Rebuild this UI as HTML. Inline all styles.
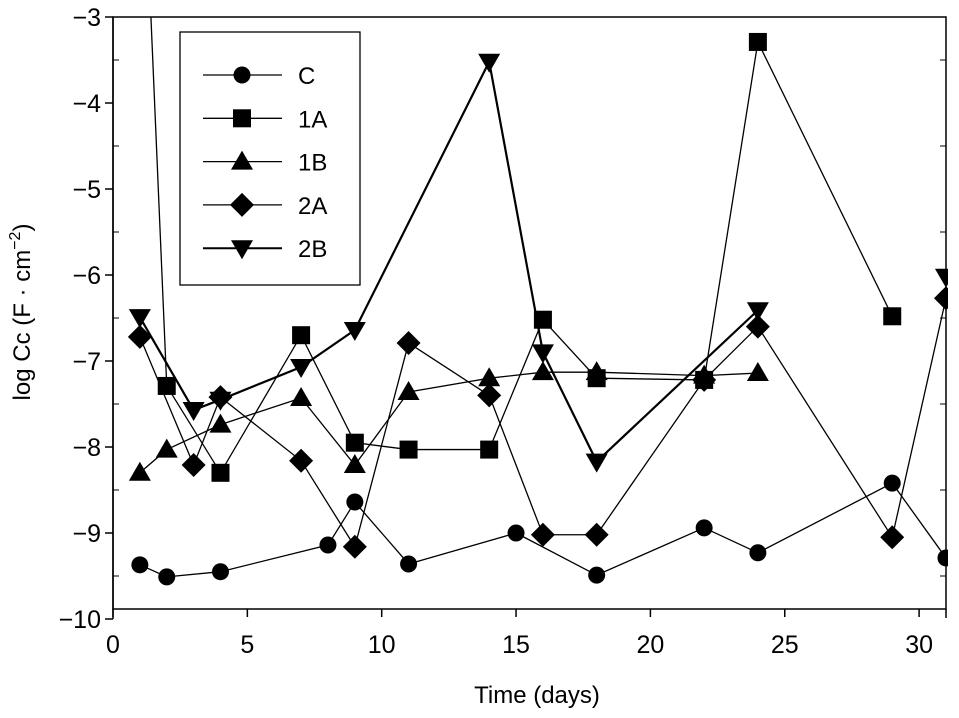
<!DOCTYPE html>
<html><head><meta charset="utf-8"><style>
html,body{margin:0;padding:0;background:#fff;}
svg{display:block;font-family:"Liberation Sans",Arial,sans-serif;}
</style></head><body>
<svg id="chart" width="959" height="718" viewBox="0 0 959 718">
<g id="axes"></g>
<g id="series"></g>
<g id="legend"></g>
<text x="537" y="703" text-anchor="middle" font-size="24">Time (days)</text>
<text transform="translate(30,312) rotate(-90)" text-anchor="middle" font-size="24">log Cc (F · cm<tspan dy="-10" font-size="16">−2</tspan><tspan dy="10">)</tspan></text>
</svg>
<script>
const xTicks=[0,5,10,15,20,25,30];
const yTicks=[-3,-4,-5,-6,-7,-8,-9,-10];
const yTickLabels=["−3","−4","−5","−6","−7","−8","−9","−10"];
const cDays=[1,2,4,8,9,11,15,18,22,24,29,31];
const cVals=[-9.37,-9.51,-9.45,-9.14,-8.64,-9.36,-9.0,-9.49,-8.94,-9.23,-8.42,-9.29];
const a1Days=[1,2,4,7,9,11,14,16,18,22,24,29];
const a1Vals=[0,-7.29,-8.30,-6.70,-7.95,-8.03,-8.03,-6.52,-7.20,-7.22,-3.29,-6.48];
const b1Days=[1,2,4,7,9,11,14,16,18,22,24];
const b1Vals=[-8.30,-8.03,-7.74,-7.43,-8.21,-7.36,-7.20,-7.13,-7.13,-7.17,-7.14];
const a2Days=[1,3,4,7,9,11,14,16,18,22,24,29,31];
const a2Vals=[-6.72,-8.21,-7.42,-8.16,-9.16,-6.79,-7.40,-9.02,-9.02,-7.22,-6.60,-9.05,-6.27];
const b2Days=[1,3,4,7,9,14,16,18,24,28,31];
const b2Vals=[-6.49,-7.57,-7.45,-7.07,-6.64,-3.52,-6.90,-8.17,-6.41,null,-6.02];
const seriesNames=["C","1A","1B","2A","2B"];

const NS="http://www.w3.org/2000/svg";
const L=113,R=946,T=17,B=609;
function xs(d){return 113+d*26.87;}
function ys(v){return 17+(-3-v)*86;}
function mk(tag,attrs,parent){const e=document.createElementNS(NS,tag);for(const k in attrs)e.setAttribute(k,attrs[k]);parent.appendChild(e);return e;}
const axes=document.getElementById('axes');
let e;
e=mk('rect',{x:L,y:T,width:R-L,height:B-T,fill:'none',stroke:'#000','stroke-width':1.5},axes);


e=mk('line',{x1:L,y1:T,x2:L,y2:ys(-10),stroke:'#000','stroke-width':1.5},axes);


e=mk('line',{x1:R,y1:B,x2:R,y2:B+9,stroke:'#000','stroke-width':1.5},axes);


yTicks.forEach((v,i)=>{
  const y=ys(v);
  let t=mk('line',{x1:L-8,y1:y,x2:L,y2:y,stroke:'#000','stroke-width':1.5},axes);
  
  
  if(v>-10){
    const ym=ys(v-0.5);
    let m=mk('line',{x1:L,y1:ym,x2:L+6,y2:ym,stroke:'#000','stroke-width':1},axes);
    
    
    let m2=mk('line',{x1:R-6,y1:ym,x2:R,y2:ym,stroke:'#000','stroke-width':1},axes);
    
    
  }
  if(v>-3&&v>-10){
    let t2=mk('line',{x1:R-8,y1:y,x2:R,y2:y,stroke:'#000','stroke-width':1},axes);
    
    
  }
  let lb=mk('text',{x:L-12,y:y+9,'text-anchor':'end','font-size':25},axes);
  lb.textContent=yTickLabels[i];
  
  
});
xTicks.forEach(d=>{
  const x=xs(d);
  let t=mk('line',{x1:x,y1:B,x2:x,y2:B+8,stroke:'#000','stroke-width':1.5},axes);
  
  
  let lb=mk('text',{x:x,y:653,'text-anchor':'middle','font-size':25},axes);
  lb.textContent=String(d);
  
  
});
const clip=mk('clipPath',{id:'pc'},document.getElementById('chart'));
mk('rect',{x:L,y:T,width:R-L+2,height:B-T},clip);
const sg=document.getElementById('series');
function marker(type,x,y,parent){
  let m;
  if(type==='circle')m=mk('circle',{cx:x,cy:y,r:8.5},parent);
  else if(type==='square')m=mk('rect',{x:x-9,y:y-9,width:18,height:18},parent);
  else if(type==='tri')m=mk('polygon',{points:`${x},${y-11} ${x+11},${y+8} ${x-11},${y+8}`},parent);
  else if(type==='dia')m=mk('polygon',{points:`${x},${y-12} ${x+12},${y} ${x},${y+12} ${x-12},${y}`},parent);
  else m=mk('polygon',{points:`${x},${y+11} ${x+11},${y-8} ${x-11},${y-8}`},parent);
  m.setAttribute('fill','#000');
  return m;
}
function drawSeries(name,days,vals,type,w){
  const g=mk('g',{'clip-path':'url(#pc)'},sg);
  
  
  let segs=[],cur=[];
  days.forEach((d,i)=>{if(vals[i]===null){if(cur.length)segs.push(cur);cur=[];}else cur.push([xs(d),ys(vals[i])]);});
  if(cur.length)segs.push(cur);
  segs.forEach(s=>{
    let p=mk('polyline',{points:s.map(q=>q.join(',')).join(' '),fill:'none',stroke:'#000','stroke-width':w},g);
    
    
  });
  days.forEach((d,i)=>{
    if(vals[i]===null)return;
    let m=marker(type,xs(d),ys(vals[i]),g);
    
    
  });
}
drawSeries('c',cDays,cVals,'circle',1.3);
drawSeries('1a',a1Days,a1Vals,'square',1.3);
drawSeries('1b',b1Days,b1Vals,'tri',1.3);
drawSeries('2a',a2Days,a2Vals,'dia',1.3);
drawSeries('2b',b2Days,b2Vals,'inv',2.2);
const lg=document.getElementById('legend');
e=mk('rect',{x:180,y:32,width:180,height:253,fill:'#fff',stroke:'#000','stroke-width':1.3},lg);


const types=['circle','square','tri','dia','inv'];
seriesNames.forEach((n,i)=>{
  const y=75+i*43.3;
  const g=mk('g',{},lg);
  
  
  mk('line',{x1:203,y1:y,x2:282,y2:y,stroke:'#000','stroke-width':i===4?2:1.3},g);
  marker(types[i],242,y,g);
  let t=mk('text',{x:298,y:y+9,'font-size':24},g);
  t.textContent=n;
});
</script>
</body></html>
